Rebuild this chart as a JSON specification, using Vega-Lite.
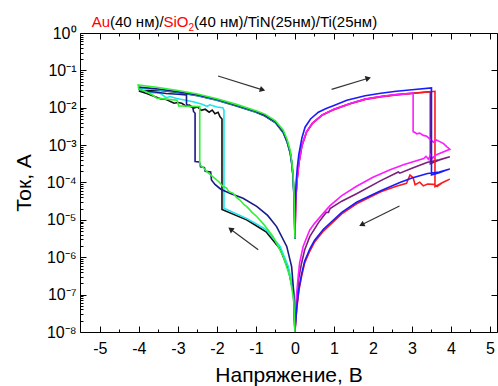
{
"$schema":"https://vega.github.io/schema/vega-lite/v6.json",
"width":417,"height":299,
"autosize":{"type":"none"},
"padding":{"left":80,"top":33,"right":1,"bottom":54},
"config":{"font":"Liberation Sans","view":{"stroke":null},"axis":{"grid":false}},
"datasets":{
"iv":[
{"s":"purple","V":0,"I":3.16e-6},{"s":"purple","V":0.02,"I":3.31e-5},{"s":"purple","V":0.05,"I":1.047e-4},{"s":"purple","V":0.1,"I":3.31e-4},{"s":"purple","V":0.18,"I":1e-3},{"s":"purple","V":0.3,"I":2.29e-3},{"s":"purple","V":0.45,"I":3.89e-3},{"s":"purple","V":0.7,"I":6.46e-3},{"s":"purple","V":1.0,"I":9.12e-3},{"s":"purple","V":1.4,"I":1.288e-2},{"s":"purple","V":1.8,"I":1.698e-2},{"s":"purple","V":2.2,"I":2.0e-2},{"s":"purple","V":2.6,"I":2.24e-2},{"s":"purple","V":3.0,"I":2.455e-2},{"s":"purple","V":3.47,"I":2.69e-2},
{"s":"purple","V":3.47,"I":3.16e-4},{"s":"purple","V":3.7,"I":3.98e-4},{"s":"purple","V":3.97,"I":4.9e-4},{"s":"purple","V":3.7,"I":4.07e-4},{"s":"purple","V":3.4,"I":3.47e-4},{"s":"purple","V":3.0,"I":2.4e-4},{"s":"purple","V":2.69,"I":1.778e-4},{"s":"purple","V":2.65,"I":1.905e-4},{"s":"purple","V":2.2,"I":1.122e-4},{"s":"purple","V":1.58,"I":5.01e-5},{"s":"purple","V":1.2,"I":3.16e-5},{"s":"purple","V":0.9,"I":2.0e-5},{"s":"purple","V":0.86,"I":1.585e-5},{"s":"purple","V":0.8,"I":1.585e-5},{"s":"purple","V":0.6,"I":8.32e-6},{"s":"purple","V":0.38,"I":3.55e-6},{"s":"purple","V":0.25,"I":1.585e-6},{"s":"purple","V":0.17,"I":6.92e-7},{"s":"purple","V":0.1,"I":2.82e-7},{"s":"purple","V":0.05,"I":7.94e-8},{"s":"purple","V":0.02,"I":2.51e-8},{"s":"purple","V":0,"I":1e-8},
{"s":"red","V":0,"I":3.16e-6},{"s":"red","V":0.02,"I":3.16e-5},{"s":"red","V":0.05,"I":1e-4},{"s":"red","V":0.1,"I":3.16e-4},{"s":"red","V":0.18,"I":9.55e-4},{"s":"red","V":0.3,"I":2.24e-3},{"s":"red","V":0.45,"I":3.8e-3},{"s":"red","V":0.7,"I":6.31e-3},{"s":"red","V":1.0,"I":8.91e-3},{"s":"red","V":1.4,"I":1.259e-2},{"s":"red","V":1.8,"I":1.66e-2},{"s":"red","V":2.2,"I":1.95e-2},{"s":"red","V":2.6,"I":2.19e-2},{"s":"red","V":3.0,"I":2.4e-2},{"s":"red","V":3.4,"I":2.63e-2},{"s":"red","V":3.59,"I":2.754e-2},
{"s":"red","V":3.59,"I":7.76e-5},{"s":"red","V":3.75,"I":9.55e-5},{"s":"red","V":3.97,"I":1.23e-4},{"s":"red","V":3.8,"I":1.023e-4},{"s":"red","V":3.65,"I":7.94e-5},{"s":"red","V":3.55,"I":8.91e-5},{"s":"red","V":3.4,"I":9.12e-5},{"s":"red","V":3.29,"I":8.13e-5},{"s":"red","V":3.2,"I":1.023e-4},{"s":"red","V":3.08,"I":8.71e-5},{"s":"red","V":3.03,"I":1.349e-4},{"s":"red","V":2.95,"I":1.585e-4},{"s":"red","V":2.86,"I":9.55e-5},{"s":"red","V":2.6,"I":7.94e-5},{"s":"red","V":2.2,"I":5.62e-5},{"s":"red","V":1.58,"I":2.69e-5},{"s":"red","V":1.2,"I":1.445e-5},{"s":"red","V":0.73,"I":5.01e-6},{"s":"red","V":0.5,"I":2.51e-6},{"s":"red","V":0.38,"I":1.445e-6},{"s":"red","V":0.25,"I":7.08e-7},{"s":"red","V":0.17,"I":3.02e-7},{"s":"red","V":0.1,"I":1.259e-7},{"s":"red","V":0.05,"I":4.47e-8},{"s":"red","V":0.02,"I":1.905e-8},{"s":"red","V":0,"I":1e-8},
{"s":"magenta","V":0,"I":3.16e-6},{"s":"magenta","V":0.02,"I":3.31e-5},{"s":"magenta","V":0.05,"I":1.047e-4},{"s":"magenta","V":0.1,"I":3.31e-4},{"s":"magenta","V":0.18,"I":1e-3},{"s":"magenta","V":0.3,"I":2.29e-3},{"s":"magenta","V":0.45,"I":3.89e-3},{"s":"magenta","V":0.7,"I":6.46e-3},{"s":"magenta","V":1.0,"I":9.12e-3},{"s":"magenta","V":1.4,"I":1.288e-2},{"s":"magenta","V":1.8,"I":1.698e-2},{"s":"magenta","V":2.2,"I":2.0e-2},{"s":"magenta","V":2.6,"I":2.24e-2},{"s":"magenta","V":3.03,"I":2.455e-2},
{"s":"magenta","V":3.03,"I":2.29e-3},{"s":"magenta","V":3.08,"I":2.19e-3},{"s":"magenta","V":3.12,"I":2.0e-3},{"s":"magenta","V":3.2,"I":2.09e-3},{"s":"magenta","V":3.29,"I":1.82e-3},{"s":"magenta","V":3.38,"I":1.74e-3},{"s":"magenta","V":3.46,"I":1.445e-3},{"s":"magenta","V":3.55,"I":1.2e-3},{"s":"magenta","V":3.62,"I":1.38e-3},{"s":"magenta","V":3.7,"I":1.259e-3},{"s":"magenta","V":3.81,"I":1.096e-3},{"s":"magenta","V":3.89,"I":9.12e-4},{"s":"magenta","V":3.97,"I":7.76e-4},
{"s":"magenta","V":3.6,"I":5.37e-4},{"s":"magenta","V":3.52,"I":4.37e-4},{"s":"magenta","V":3.48,"I":5.62e-4},{"s":"magenta","V":3.42,"I":4.17e-4},{"s":"magenta","V":3.36,"I":5.01e-4},{"s":"magenta","V":3.3,"I":4.37e-4},{"s":"magenta","V":2.8,"I":3.02e-4},{"s":"magenta","V":2.44,"I":2.19e-4},{"s":"magenta","V":2.0,"I":1.38e-4},{"s":"magenta","V":1.58,"I":7.94e-5},{"s":"magenta","V":1.2,"I":4.47e-5},{"s":"magenta","V":0.9,"I":2.4e-5},{"s":"magenta","V":0.73,"I":1.514e-5},{"s":"magenta","V":0.5,"I":7.94e-6},{"s":"magenta","V":0.38,"I":5.37e-6},{"s":"magenta","V":0.21,"I":1.95e-6},{"s":"magenta","V":0.12,"I":7.08e-7},{"s":"magenta","V":0.085,"I":3.16e-7},{"s":"magenta","V":0.03,"I":7.24e-8},{"s":"magenta","V":0,"I":1e-8},
{"s":"blue","V":0,"I":3.16e-6},{"s":"blue","V":0.01,"I":2.51e-5},{"s":"blue","V":0.03,"I":1e-4},{"s":"blue","V":0.06,"I":2.51e-4},{"s":"blue","V":0.1,"I":5.62e-4},{"s":"blue","V":0.18,"I":1.585e-3},{"s":"blue","V":0.26,"I":3.02e-3},{"s":"blue","V":0.4,"I":5.01e-3},{"s":"blue","V":0.6,"I":7.59e-3},{"s":"blue","V":0.8,"I":9.55e-3},{"s":"blue","V":1.0,"I":1.148e-2},{"s":"blue","V":1.33,"I":1.585e-2},{"s":"blue","V":1.8,"I":2.09e-2},{"s":"blue","V":2.2,"I":2.455e-2},{"s":"blue","V":2.6,"I":2.754e-2},{"s":"blue","V":3.0,"I":3.02e-2},{"s":"blue","V":3.5,"I":3.39e-2},
{"s":"blue","V":3.5,"I":1.585e-4},{"s":"blue","V":3.7,"I":1.82e-4},{"s":"blue","V":3.85,"I":2.09e-4},{"s":"blue","V":3.97,"I":2.29e-4},{"s":"blue","V":3.7,"I":1.905e-4},{"s":"blue","V":3.4,"I":1.738e-4},{"s":"blue","V":3.0,"I":1.318e-4},{"s":"blue","V":2.69,"I":1e-4},{"s":"blue","V":2.2,"I":6.03e-5},{"s":"blue","V":1.58,"I":2.95e-5},{"s":"blue","V":1.2,"I":1.585e-5},{"s":"blue","V":0.73,"I":5.62e-6},{"s":"blue","V":0.5,"I":2.82e-6},{"s":"blue","V":0.38,"I":1.66e-6},{"s":"blue","V":0.25,"I":7.94e-7},{"s":"blue","V":0.17,"I":3.55e-7},{"s":"blue","V":0.1,"I":1.41e-7},{"s":"blue","V":0.05,"I":5.01e-8},{"s":"blue","V":0.02,"I":2.0e-8},{"s":"blue","V":0,"I":1e-8},
{"s":"black","V":0,"I":1e-8},{"s":"black","V":-0.04,"I":1.122e-7},{"s":"black","V":-0.17,"I":4.79e-7},{"s":"black","V":-0.38,"I":1.66e-6},{"s":"black","V":-0.73,"I":4.68e-6},{"s":"black","V":-1.0,"I":7.08e-6},{"s":"black","V":-1.24,"I":1e-5},{"s":"black","V":-1.87,"I":1.905e-5},
{"s":"black","V":-1.87,"I":5.01e-3},{"s":"black","V":-1.92,"I":5.75e-3},{"s":"black","V":-1.97,"I":7.59e-3},{"s":"black","V":-2.05,"I":6.92e-3},{"s":"black","V":-2.12,"I":8.71e-3},{"s":"black","V":-2.2,"I":7.59e-3},{"s":"black","V":-2.3,"I":9.12e-3},{"s":"black","V":-2.4,"I":8.51e-3},{"s":"black","V":-2.5,"I":1.047e-2},{"s":"black","V":-2.6,"I":9.77e-3},{"s":"black","V":-2.7,"I":1.175e-2},{"s":"black","V":-2.8,"I":1.122e-2},{"s":"black","V":-2.9,"I":1.318e-2},{"s":"black","V":-3.0,"I":1.38e-2},{"s":"black","V":-3.1,"I":1.318e-2},{"s":"black","V":-3.3,"I":1.66e-2},{"s":"black","V":-3.45,"I":1.738e-2},{"s":"black","V":-3.6,"I":2.0e-2},{"s":"black","V":-3.8,"I":2.4e-2},{"s":"black","V":-4.0,"I":2.82e-2},
{"s":"black","V":-3.5,"I":2.95e-2},{"s":"black","V":-3.0,"I":2.57e-2},{"s":"black","V":-2.5,"I":2.09e-2},{"s":"black","V":-2.0,"I":1.585e-2},{"s":"black","V":-1.5,"I":1.122e-2},{"s":"black","V":-1.0,"I":7.59e-3},{"s":"black","V":-0.77,"I":6.03e-3},{"s":"black","V":-0.5,"I":3.98e-3},{"s":"black","V":-0.3,"I":2.14e-3},{"s":"black","V":-0.2,"I":1.2e-3},{"s":"black","V":-0.12,"I":6.03e-4},{"s":"black","V":-0.085,"I":3.39e-4},{"s":"black","V":-0.05,"I":1.51e-4},{"s":"black","V":-0.02,"I":3.39e-5},{"s":"black","V":0,"I":3.16e-6},
{"s":"cyan","V":0,"I":1e-8},{"s":"cyan","V":-0.04,"I":1.35e-7},{"s":"cyan","V":-0.17,"I":5.62e-7},{"s":"cyan","V":-0.38,"I":1.95e-6},{"s":"cyan","V":-0.73,"I":5.37e-6},{"s":"cyan","V":-1.0,"I":7.94e-6},{"s":"cyan","V":-1.24,"I":1.096e-5},{"s":"cyan","V":-1.82,"I":2.04e-5},
{"s":"cyan","V":-1.82,"I":8.71e-3},{"s":"cyan","V":-1.85,"I":1e-2},{"s":"cyan","V":-2.0,"I":1.047e-2},{"s":"cyan","V":-2.18,"I":1.2e-2},{"s":"cyan","V":-2.25,"I":1.096e-2},{"s":"cyan","V":-2.4,"I":1.259e-2},{"s":"cyan","V":-2.61,"I":1.445e-2},{"s":"cyan","V":-2.8,"I":1.585e-2},{"s":"cyan","V":-3.03,"I":1.778e-2},{"s":"cyan","V":-3.2,"I":2.0e-2},{"s":"cyan","V":-3.3,"I":1.862e-2},{"s":"cyan","V":-3.46,"I":2.455e-2},{"s":"cyan","V":-3.7,"I":2.51e-2},{"s":"cyan","V":-3.8,"I":2.69e-2},{"s":"cyan","V":-3.97,"I":3.02e-2},{"s":"cyan","V":-4.0,"I":3.31e-2},
{"s":"cyan","V":-3.5,"I":3.02e-2},{"s":"cyan","V":-3.0,"I":2.63e-2},{"s":"cyan","V":-2.5,"I":2.14e-2},{"s":"cyan","V":-2.0,"I":1.622e-2},{"s":"cyan","V":-1.5,"I":1.148e-2},{"s":"cyan","V":-1.0,"I":7.76e-3},{"s":"cyan","V":-0.77,"I":6.17e-3},{"s":"cyan","V":-0.5,"I":4.07e-3},{"s":"cyan","V":-0.3,"I":2.19e-3},{"s":"cyan","V":-0.2,"I":1.23e-3},{"s":"cyan","V":-0.12,"I":6.17e-4},{"s":"cyan","V":-0.085,"I":3.47e-4},{"s":"cyan","V":-0.05,"I":1.55e-4},{"s":"cyan","V":-0.02,"I":3.47e-5},{"s":"cyan","V":0,"I":3.16e-6},
{"s":"navy","V":0,"I":1e-8},{"s":"navy","V":-0.03,"I":1.122e-7},{"s":"navy","V":-0.085,"I":5.62e-7},{"s":"navy","V":-0.21,"I":1.95e-6},{"s":"navy","V":-0.47,"I":6.61e-6},{"s":"navy","V":-0.7,"I":1.318e-5},{"s":"navy","V":-0.98,"I":2.29e-5},{"s":"navy","V":-1.33,"I":3.8e-5},{"s":"navy","V":-1.67,"I":5.13e-5},{"s":"navy","V":-1.9,"I":6.61e-5},{"s":"navy","V":-2.05,"I":8.91e-5},{"s":"navy","V":-2.14,"I":1.175e-4},{"s":"navy","V":-2.16,"I":1.905e-4},{"s":"navy","V":-2.3,"I":2.0e-4},{"s":"navy","V":-2.32,"I":2.51e-4},{"s":"navy","V":-2.42,"I":2.63e-4},{"s":"navy","V":-2.45,"I":3.55e-4},{"s":"navy","V":-2.56,"I":3.63e-4},
{"s":"navy","V":-2.56,"I":7.08e-3},{"s":"navy","V":-2.6,"I":7.94e-3},{"s":"navy","V":-2.62,"I":1.047e-2},{"s":"navy","V":-2.72,"I":1.096e-2},{"s":"navy","V":-2.78,"I":1.259e-2},{"s":"navy","V":-2.78,"I":2.19e-2},{"s":"navy","V":-3.0,"I":2.29e-2},{"s":"navy","V":-3.3,"I":2.4e-2},{"s":"navy","V":-3.6,"I":2.63e-2},{"s":"navy","V":-3.9,"I":2.82e-2},{"s":"navy","V":-4.0,"I":3.16e-2},{"s":"navy","V":-4.0,"I":3.55e-2},
{"s":"navy","V":-3.5,"I":3.16e-2},{"s":"navy","V":-3.0,"I":2.69e-2},{"s":"navy","V":-2.5,"I":2.19e-2},{"s":"navy","V":-2.0,"I":1.66e-2},{"s":"navy","V":-1.5,"I":1.175e-2},{"s":"navy","V":-1.0,"I":7.94e-3},{"s":"navy","V":-0.77,"I":6.31e-3},{"s":"navy","V":-0.5,"I":4.17e-3},{"s":"navy","V":-0.3,"I":2.24e-3},{"s":"navy","V":-0.2,"I":1.259e-3},{"s":"navy","V":-0.12,"I":6.31e-4},{"s":"navy","V":-0.085,"I":3.55e-4},{"s":"navy","V":-0.05,"I":1.585e-4},{"s":"navy","V":-0.02,"I":3.55e-5},{"s":"navy","V":0,"I":3.16e-6},
{"s":"green","V":0,"I":1e-8},{"s":"green","V":-0.03,"I":7.24e-8},{"s":"green","V":-0.13,"I":3.02e-7},{"s":"green","V":-0.3,"I":1.047e-6},{"s":"green","V":-0.56,"I":3.55e-6},{"s":"green","V":-0.8,"I":7.59e-6},{"s":"green","V":-0.98,"I":1.23e-5},{"s":"green","V":-1.1,"I":1.585e-5},{"s":"green","V":-1.15,"I":1.82e-5},{"s":"green","V":-1.24,"I":2.29e-5},{"s":"green","V":-1.3,"I":2.51e-5},{"s":"green","V":-1.41,"I":3.39e-5},{"s":"green","V":-1.5,"I":3.98e-5},{"s":"green","V":-1.58,"I":5.13e-5},{"s":"green","V":-1.7,"I":5.75e-5},{"s":"green","V":-1.75,"I":7.08e-5},{"s":"green","V":-1.85,"I":7.94e-5},{"s":"green","V":-1.95,"I":1.047e-4},{"s":"green","V":-2.1,"I":1.413e-4},{"s":"green","V":-2.26,"I":1.95e-4},{"s":"green","V":-2.35,"I":2.51e-4},{"s":"green","V":-2.44,"I":2.95e-4},
{"s":"green","V":-2.44,"I":1.072e-2},{"s":"green","V":-2.7,"I":1.096e-2},{"s":"green","V":-2.98,"I":1.122e-2},{"s":"green","V":-3.02,"I":1.585e-2},{"s":"green","V":-3.3,"I":1.698e-2},{"s":"green","V":-3.55,"I":1.82e-2},{"s":"green","V":-3.65,"I":2.19e-2},{"s":"green","V":-3.8,"I":2.63e-2},{"s":"green","V":-4.0,"I":3.16e-2},{"s":"green","V":-4.02,"I":4.07e-2},
{"s":"green","V":-3.5,"I":3.47e-2},{"s":"green","V":-3.0,"I":2.88e-2},{"s":"green","V":-2.5,"I":2.34e-2},{"s":"green","V":-2.0,"I":1.738e-2},{"s":"green","V":-1.5,"I":1.23e-2},{"s":"green","V":-1.0,"I":8.32e-3},{"s":"green","V":-0.77,"I":6.76e-3},{"s":"green","V":-0.5,"I":4.47e-3},{"s":"green","V":-0.3,"I":2.51e-3},{"s":"green","V":-0.2,"I":1.413e-3},{"s":"green","V":-0.12,"I":7.08e-4},{"s":"green","V":-0.085,"I":3.98e-4},{"s":"green","V":-0.05,"I":1.778e-4},{"s":"green","V":-0.02,"I":3.98e-5},{"s":"green","V":0,"I":3.16e-6}
],
"arrows":[
{"id":1,"x":-1.97,"y":0.0708,"x2":-0.83,"y2":0.0302},
{"id":2,"x":0.94,"y":0.0309,"x2":1.88,"y2":0.0617},
{"id":3,"x":2.68,"y":2.34e-5,"x2":1.71,"y2":7.41e-6},
{"id":4,"x":-0.94,"y":1.585e-6,"x2":-1.65,"y2":5.62e-6}
]},
"resolve":{"axis":{"x":"independent","y":"independent"}},
"layer":[
{"data":{"name":"iv"},
 "mark":{"type":"line","strokeWidth":1.6,"clip":true},
 "encoding":{
  "x":{"field":"V","type":"quantitative","scale":{"type":"linear","domain":[-5.51,5.18],"nice":false,"zero":false},
   "axis":{"orient":"bottom","values":[-5,-4.5,-4,-3.5,-3,-2.5,-2,-1.5,-1,-0.5,0,0.5,1,1.5,2,2.5,3,3.5,4,4.5,5],
    "labelExpr":"datum.value == round(datum.value) ? toString(datum.value) : ''",
    "tickSize":{"condition":{"test":"datum.value == round(datum.value)","value":-6},"value":-3},
    "labelPadding":14,"labelFontSize":16,"labelColor":"#000","labelOverlap":false,"labelFlush":false,"labelBound":false,
    "tickColor":"#000","domainColor":"#000","tickWidth":1,"domainWidth":1,
    "title":"Напряжение, В","titleFontSize":21,"titleFontWeight":"normal","titleColor":"#000","titlePadding":5}},
  "y":{"field":"I","type":"quantitative","scale":{"type":"log","domain":[1e-8,1],"nice":false},
   "axis":{"orient":"left","values":[1e-8,2e-8,3e-8,4e-8,5e-8,6e-8,7e-8,8e-8,9e-8,1e-7,2e-7,3e-7,4e-7,5e-7,6e-7,7e-7,8e-7,9e-7,1e-6,2e-6,3e-6,4e-6,5e-6,6e-6,7e-6,8e-6,9e-6,1e-5,2e-5,3e-5,4e-5,5e-5,6e-5,7e-5,8e-5,9e-5,1e-4,2e-4,3e-4,4e-4,5e-4,6e-4,7e-4,8e-4,9e-4,1e-3,2e-3,3e-3,4e-3,5e-3,6e-3,7e-3,8e-3,9e-3,1e-2,2e-2,3e-2,4e-2,5e-2,6e-2,7e-2,8e-2,9e-2,1e-1,2e-1,3e-1,4e-1,5e-1,6e-1,7e-1,8e-1,9e-1,1],
    "labelExpr":"abs(log(datum.value)/LN10 - round(log(datum.value)/LN10)) < 0.001 ? '10' + (round(log(datum.value)/LN10) < 0 ? '⁻' : '') + ['⁰','¹','²','³','⁴','⁵','⁶','⁷','⁸','⁹'][abs(round(log(datum.value)/LN10))] : ''",
    "tickSize":{"condition":{"test":"abs(log(datum.value)/LN10 - round(log(datum.value)/LN10)) < 0.001","value":-6},"value":-3},
    "labelPadding":10,"labelFontSize":16,"labelColor":"#000","labelOverlap":false,"labelFlush":false,"labelBound":false,
    "tickColor":"#000","domainColor":"#000","tickWidth":1,"domainWidth":1,
    "title":"Ток, А","titleFontSize":21,"titleFontWeight":"normal","titleColor":"#000","titlePadding":12}},
  "color":{"field":"s","type":"nominal","legend":null,
   "scale":{"domain":["purple","red","magenta","blue","black","cyan","navy","green"],
    "range":["#7a1f7a","#ff1a1a","#ff1aff","#1a1aff","#111111","#1ae6f0","#1a1a8a","#33f033"]}},
  "order":{"value":null}}},
{"data":{"values":[{"V":0,"I":0.001}]},
 "mark":{"type":"point","opacity":0},
 "encoding":{
  "x":{"field":"V","type":"quantitative","scale":{"type":"linear","domain":[-5.51,5.18],"nice":false,"zero":false},
   "axis":{"orient":"top","values":[-5,-4.5,-4,-3.5,-3,-2.5,-2,-1.5,-1,-0.5,0,0.5,1,1.5,2,2.5,3,3.5,4,4.5,5],"labels":false,"title":null,
    "tickSize":{"condition":{"test":"datum.value == round(datum.value)","value":-6},"value":-3},
    "tickColor":"#000","domainColor":"#000","tickWidth":1,"domainWidth":1}},
  "y":{"field":"I","type":"quantitative","scale":{"type":"log","domain":[1e-8,1],"nice":false},
   "axis":{"orient":"right","values":[1e-8,1e-7,1e-6,1e-5,1e-4,1e-3,1e-2,1e-1,1],"labels":false,"title":null,"tickSize":-6,
    "tickColor":"#000","domainColor":"#000","tickWidth":1,"domainWidth":1}}}},
{"data":{"name":"arrows"},
 "mark":{"type":"rule","color":"#333333","strokeWidth":1.2},
 "encoding":{
  "x":{"field":"x","type":"quantitative","scale":{"type":"linear","domain":[-5.51,5.18],"nice":false,"zero":false},"axis":null},
  "y":{"field":"y","type":"quantitative","scale":{"type":"log","domain":[1e-8,1],"nice":false},"axis":null},
  "x2":{"field":"x2"},"y2":{"field":"y2"}}},
{"data":{"name":"arrows"},"transform":[{"filter":"datum.id == 1"}],
 "mark":{"type":"point","shape":"triangle-up","filled":true,"size":40,"angle":107,"color":"#222222","opacity":1},
 "encoding":{"x":{"field":"x2","type":"quantitative","scale":{"type":"linear","domain":[-5.51,5.18],"nice":false,"zero":false},"axis":null},
  "y":{"field":"y2","type":"quantitative","scale":{"type":"log","domain":[1e-8,1],"nice":false},"axis":null}}},
{"data":{"name":"arrows"},"transform":[{"filter":"datum.id == 2"}],
 "mark":{"type":"point","shape":"triangle-up","filled":true,"size":40,"angle":73,"color":"#222222","opacity":1},
 "encoding":{"x":{"field":"x2","type":"quantitative","scale":{"type":"linear","domain":[-5.51,5.18],"nice":false,"zero":false},"axis":null},
  "y":{"field":"y2","type":"quantitative","scale":{"type":"log","domain":[1e-8,1],"nice":false},"axis":null}}},
{"data":{"name":"arrows"},"transform":[{"filter":"datum.id == 3"}],
 "mark":{"type":"point","shape":"triangle-up","filled":true,"size":40,"angle":243,"color":"#222222","opacity":1},
 "encoding":{"x":{"field":"x2","type":"quantitative","scale":{"type":"linear","domain":[-5.51,5.18],"nice":false,"zero":false},"axis":null},
  "y":{"field":"y2","type":"quantitative","scale":{"type":"log","domain":[1e-8,1],"nice":false},"axis":null}}},
{"data":{"name":"arrows"},"transform":[{"filter":"datum.id == 4"}],
 "mark":{"type":"point","shape":"triangle-up","filled":true,"size":40,"angle":307,"color":"#222222","opacity":1},
 "encoding":{"x":{"field":"x2","type":"quantitative","scale":{"type":"linear","domain":[-5.51,5.18],"nice":false,"zero":false},"axis":null},
  "y":{"field":"y2","type":"quantitative","scale":{"type":"log","domain":[1e-8,1],"nice":false},"axis":null}}},
{"data":{"values":[{}]},
 "mark":{"type":"text","text":"Au","color":"#ff0000","align":"left","baseline":"alphabetic","fontSize":15,"dx":0},
 "encoding":{"x":{"datum":-5.21,"type":"quantitative","scale":{"type":"linear","domain":[-5.51,5.18],"nice":false,"zero":false},"axis":null},
  "y":{"datum":1.49,"type":"quantitative","scale":{"type":"log","domain":[1e-8,1],"nice":false},"axis":null}}},
{"data":{"values":[{}]},
 "mark":{"type":"text","text":"(40 нм)/","color":"#000000","align":"left","baseline":"alphabetic","fontSize":15,"dx":18.3},
 "encoding":{"x":{"datum":-5.21,"type":"quantitative","scale":{"type":"linear","domain":[-5.51,5.18],"nice":false,"zero":false},"axis":null},
  "y":{"datum":1.49,"type":"quantitative","scale":{"type":"log","domain":[1e-8,1],"nice":false},"axis":null}}},
{"data":{"values":[{}]},
 "mark":{"type":"text","text":"SiO","color":"#ff0000","align":"left","baseline":"alphabetic","fontSize":15,"dx":71.8},
 "encoding":{"x":{"datum":-5.21,"type":"quantitative","scale":{"type":"linear","domain":[-5.51,5.18],"nice":false,"zero":false},"axis":null},
  "y":{"datum":1.49,"type":"quantitative","scale":{"type":"log","domain":[1e-8,1],"nice":false},"axis":null}}},
{"data":{"values":[{}]},
 "mark":{"type":"text","text":"2","color":"#ff0000","align":"left","baseline":"alphabetic","fontSize":10,"dx":96.8,"dy":4},
 "encoding":{"x":{"datum":-5.21,"type":"quantitative","scale":{"type":"linear","domain":[-5.51,5.18],"nice":false,"zero":false},"axis":null},
  "y":{"datum":1.49,"type":"quantitative","scale":{"type":"log","domain":[1e-8,1],"nice":false},"axis":null}}},
{"data":{"values":[{}]},
 "mark":{"type":"text","text":"(40 нм)/TiN(25нм)/Ti(25нм)","color":"#000000","align":"left","baseline":"alphabetic","fontSize":15,"dx":102.4},
 "encoding":{"x":{"datum":-5.21,"type":"quantitative","scale":{"type":"linear","domain":[-5.51,5.18],"nice":false,"zero":false},"axis":null},
  "y":{"datum":1.49,"type":"quantitative","scale":{"type":"log","domain":[1e-8,1],"nice":false},"axis":null}}}
]
}
